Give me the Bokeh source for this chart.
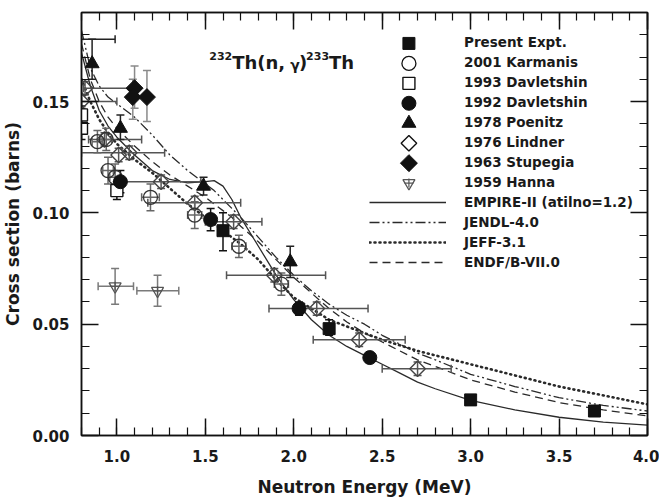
import numpy as np
from bokeh.plotting import figure
from bokeh.models import (LinearAxis, SingleIntervalTicker, PrintfTickFormatter, Range1d,
                          Legend, LegendItem, Label)
from bokeh.embed import file_html
from bokeh.resources import INLINE

# ---------------- data ----------------
present_x = [1.60, 2.20, 3.00, 3.70]
present_y = [0.092, 0.048, 0.016, 0.011]
present_ylo = [0.083, 0.045, 0.0145, 0.0098]
present_yhi = [0.100, 0.052, 0.0175, 0.0122]

karm_x = [0.89, 0.94, 0.95, 0.99, 1.19, 1.44, 1.69, 1.93]
karm_y = [0.132, 0.133, 0.119, 0.116, 0.107, 0.099, 0.085, 0.068]
karm_xlo = [0.86, 0.91, 0.92, 0.96, 1.14, 1.40, 1.65, 1.89]
karm_xhi = [0.92, 0.97, 0.98, 1.02, 1.24, 1.48, 1.73, 1.97]
karm_ylo = [0.127, 0.128, 0.113, 0.110, 0.101, 0.093, 0.080, 0.063]
karm_yhi = [0.137, 0.138, 0.125, 0.122, 0.113, 0.105, 0.090, 0.073]

dav93_x = [0.80, 0.80, 1.00]
dav93_y = [0.144, 0.138, 0.110]
dav93_ylo = [0.140, 0.133, 0.106]
dav93_yhi = [0.148, 0.142, 0.114]

dav92_x = [1.02, 1.53, 2.03, 2.43]
dav92_y = [0.114, 0.097, 0.057, 0.035]
dav92_ylo = [0.109, 0.092, 0.054, 0.033]
dav92_yhi = [0.119, 0.102, 0.060, 0.037]

poen_x = [0.86, 1.02, 1.49, 1.98]
poen_y = [0.167, 0.138, 0.112, 0.078]
poen_ylo = [0.160, 0.133, 0.108, 0.071]
poen_yhi = [0.178, 0.144, 0.116, 0.085]
poen_xlo = [0.80, 1.02, 1.49, 1.98]
poen_xhi = [0.99, 1.02, 1.49, 1.98]
poen_xbar_y = [0.178, 0.138, 0.112, 0.078]

lind_x = [0.80, 0.82, 0.93, 1.01, 1.07, 1.25, 1.44, 1.66, 1.89, 2.13, 2.37, 2.70]
lind_y = [0.150, 0.156, 0.133, 0.126, 0.127, 0.114, 0.1045, 0.096, 0.072, 0.057, 0.043, 0.030]
lind_xlo = [0.80, 0.81, 0.84, 1.01, 0.80, 1.00, 1.175, 1.50, 1.62, 1.86, 2.11, 2.50]
lind_xhi = [1.00, 1.08, 1.14, 1.01, 1.27, 1.475, 1.70, 1.82, 2.18, 2.42, 2.63, 2.89]
lind_ylo = [0.147, 0.153, 0.130, 0.123, 0.124, 0.111, 0.1015, 0.093, 0.069, 0.054, 0.040, 0.027]
lind_yhi = [0.153, 0.159, 0.136, 0.129, 0.130, 0.117, 0.1075, 0.099, 0.075, 0.060, 0.046, 0.033]

stup_x = [1.10, 1.09, 1.17]
stup_y = [0.156, 0.152, 0.152]
stup_ylo = [0.147, 0.142, 0.141]
stup_yhi = [0.166, 0.160, 0.164]

hanna_x = [0.99, 1.23]
hanna_y = [0.067, 0.065]
hanna_xlo = [0.894, 1.113]
hanna_xhi = [1.094, 1.350]
hanna_ylo = [0.059, 0.058]
hanna_yhi = [0.075, 0.072]

curve_x = [0.80, 0.85, 0.90, 0.95, 1.00, 1.10, 1.20, 1.30, 1.40, 1.50, 1.55, 1.60, 1.65,
           1.70, 1.80, 1.90, 2.00, 2.10, 2.20, 2.30, 2.40, 2.50, 2.60, 2.70, 2.80, 3.00,
           3.25, 3.50, 3.75, 4.00]
empire_y = [0.172, 0.157, 0.146, 0.139, 0.134, 0.126, 0.119, 0.115, 0.1135, 0.114, 0.1145,
            0.112, 0.106, 0.098, 0.085, 0.072, 0.061, 0.052, 0.045, 0.040, 0.036, 0.032,
            0.028, 0.024, 0.021, 0.0158, 0.0115, 0.0082, 0.006, 0.0047]
jendl_y = [0.182, 0.165, 0.157, 0.152, 0.149, 0.143, 0.135, 0.126, 0.119, 0.113, 0.110,
           0.106, 0.102, 0.098, 0.089, 0.080, 0.072, 0.065, 0.059, 0.054, 0.050, 0.045,
           0.041, 0.037, 0.034, 0.0275, 0.022, 0.017, 0.0135, 0.011]
jeff_y = [0.160, 0.150, 0.142, 0.136, 0.131, 0.124, 0.118, 0.111, 0.104, 0.098, 0.095,
          0.092, 0.089, 0.086, 0.079, 0.070, 0.062, 0.057, 0.052, 0.049, 0.046, 0.043,
          0.0405, 0.038, 0.036, 0.032, 0.027, 0.022, 0.018, 0.014]
endf_y = [0.176, 0.160, 0.150, 0.143, 0.138, 0.130, 0.123, 0.117, 0.112, 0.107, 0.104,
          0.101, 0.098, 0.094, 0.087, 0.079, 0.071, 0.064, 0.057, 0.051, 0.046, 0.042,
          0.038, 0.034, 0.031, 0.025, 0.0195, 0.0148, 0.0115, 0.0088]

legend_labels = ["Present Expt.", "2001 Karmanis", "1993 Davletshin", "1992 Davletshin",
                 "1978 Poenitz", "1976 Lindner", "1963 Stupegia", "1959 Hanna",
                 "EMPIRE-II (atilno=1.2)", "JENDL-4.0", "JEFF-3.1", "ENDF/B-VII.0"]

# ---------------- figure ----------------
X0, X1, Y0, Y1 = 0.8, 4.0, 0.0, 0.19
p = figure(width=659, height=499, output_backend="svg", toolbar_location=None,
           x_range=Range1d(X0, X1), y_range=Range1d(Y0, Y1),
           min_border_left=80, min_border_right=12, min_border_top=12, min_border_bottom=63)
p.background_fill_color = "white"
p.border_fill_color = "white"
p.xgrid.visible = False
p.ygrid.visible = False
p.outline_line_color = "#111"
p.outline_line_width = 1.5

FONT = "DejaVu Sans"
TXT = "#1a1a1a"


def px2x(px):
    return X0 + (px - 80) * (X1 - X0) / 567.0


def px2y(py):
    return Y0 + (436 - py) * (Y1 - Y0) / 424.0


def style_axis(ax, labels=True):
    ax.axis_line_color = "#111"
    ax.axis_line_width = 1.5
    ax.major_tick_line_color = "#111"
    ax.minor_tick_line_color = "#111"
    ax.major_tick_line_width = 1.5
    ax.minor_tick_line_width = 1.2
    ax.major_tick_in = 17
    ax.major_tick_out = 0
    ax.minor_tick_in = 8
    ax.minor_tick_out = 0
    ax.major_label_text_font = FONT
    ax.major_label_text_font_style = "bold"
    if labels:
        ax.major_label_text_font_size = "15px"
        ax.major_label_text_color = TXT
    else:
        ax.major_label_text_font_size = "1px"
        ax.major_label_text_color = None
        ax.major_label_standoff = 0


xb = p.xaxis[0]
yl = p.yaxis[0]
xt = LinearAxis()
yr = LinearAxis()
p.add_layout(xt, "above")
p.add_layout(yr, "right")
for ax in (xb, xt):
    ax.ticker = SingleIntervalTicker(interval=0.5, num_minor_ticks=5)
    ax.formatter = PrintfTickFormatter(format="%.1f")
for ax in (yl, yr):
    ax.ticker = SingleIntervalTicker(interval=0.05, num_minor_ticks=5)
    ax.formatter = PrintfTickFormatter(format="%.2f")
style_axis(xb)
style_axis(yl)
style_axis(xt, labels=False)
style_axis(yr, labels=False)
xb.major_label_standoff = 14
yl.major_label_standoff = 12
xb.axis_label = "Neutron Energy (MeV)"
yl.axis_label = "Cross section (barns)"
for ax in (xb, yl):
    ax.axis_label_text_font = FONT
    ax.axis_label_text_font_style = "bold"
    ax.axis_label_text_font_size = "17px"
    ax.axis_label_text_color = TXT
xb.axis_label_standoff = 12
yl.axis_label_standoff = 6

# ---------------- curves ----------------
LC = "#2a2a2a"
r_empire = p.line(curve_x, empire_y, line_color=LC, line_width=1.3)
r_jendl = p.line(curve_x, jendl_y, line_color=LC, line_width=1.3, line_dash="10 3 2 3 2 3")
r_jeff = p.line(curve_x, jeff_y, line_color=LC, line_width=2.6, line_dash="1 4", line_cap="round")
r_endf = p.line(curve_x, endf_y, line_color=LC, line_width=1.3, line_dash="8 5")


# ---------------- error bars ----------------
def errors(xs, ys, xlo=None, xhi=None, ylo=None, yhi=None, hy=None, color="#333"):
    hy = hy if hy is not None else ys
    if xlo is not None:
        hx0 = [a for a, b in zip(xlo, xhi) if b > a]
        hx1 = [b for a, b in zip(xlo, xhi) if b > a]
        hyy = [c for a, b, c in zip(xlo, xhi, hy) if b > a]
        p.segment(hx0, hyy, hx1, hyy, line_color=color, line_width=1.5)
        p.scatter(hx0 + hx1, hyy + hyy, marker="dash", angle=np.pi / 2, size=8,
                  line_color=color, line_width=1.5)
    if ylo is not None:
        p.segment(xs, ylo, xs, yhi, line_color=color, line_width=1.5)
        p.scatter(list(xs) + list(xs), list(ylo) + list(yhi), marker="dash", size=8,
                  line_color=color, line_width=1.5)


errors(lind_x, lind_y, lind_xlo, lind_xhi, lind_ylo, lind_yhi, color="#555")
errors(karm_x, karm_y, karm_xlo, karm_xhi, karm_ylo, karm_yhi, color="#666")
errors(present_x, present_y, ylo=present_ylo, yhi=present_yhi, color="#111")
errors(dav93_x, dav93_y, ylo=dav93_ylo, yhi=dav93_yhi, color="#111")
errors(dav92_x, dav92_y, ylo=dav92_ylo, yhi=dav92_yhi, color="#111")
errors(poen_x, poen_y, poen_xlo, poen_xhi, poen_ylo, poen_yhi, hy=poen_xbar_y, color="#222")
errors(stup_x, stup_y, ylo=stup_ylo, yhi=stup_yhi, color="#8a8a8a")
errors(hanna_x, hanna_y, hanna_xlo, hanna_xhi, hanna_ylo, hanna_yhi, color="#7a7a7a")

# ---------------- markers ----------------
MK = "#111"
styles = {
    "present": dict(marker="square", size=12, fill_color=MK, line_color=MK),
    "karm": dict(marker="circle", size=14, fill_color=None, line_color="#333", line_width=1.3),
    "dav93": dict(marker="square", size=12, fill_color="white", line_color=MK, line_width=1.4),
    "dav92": dict(marker="circle", size=14, fill_color=MK, line_color=MK),
    "poen": dict(marker="triangle", size=14, fill_color=MK, line_color=MK),
    "lind": dict(marker="square", angle=np.pi / 4, size=11, fill_color=None, line_color="#444",
                 line_width=1.4),
    "stup": dict(marker="square", angle=np.pi / 4, size=12, fill_color=MK, line_color=MK),
    "hanna": dict(marker="inverted_triangle", size=12, fill_color=None, line_color="#555",
                  line_width=1.3),
    "hanna2": dict(marker="cross", size=9, line_color="#555", line_width=1.2),
}
p.scatter(lind_x, lind_y, **styles["lind"])
p.scatter(karm_x, karm_y, **styles["karm"])
p.scatter(dav93_x, dav93_y, **styles["dav93"])
p.scatter(dav92_x, dav92_y, **styles["dav92"])
p.scatter(poen_x, poen_y, **styles["poen"])
p.scatter(stup_x, stup_y, **styles["stup"])
p.scatter(hanna_x, hanna_y, **styles["hanna"])
p.scatter(hanna_x, hanna_y, **styles["hanna2"])
p.scatter(present_x, present_y, **styles["present"])

# legend keys for the marker series, drawn at full size in the legend rows
# (Bokeh's legend would shrink markers to 40% of the 20 px row height)
LEG_SYM_PX = 408
LEG_ROW0_PX = 43
LEG_ROW_STEP = 20
key_order = ["present", "karm", "dav93", "dav92", "poen", "lind", "stup", "hanna", "hanna2"]
key_rows = [0, 1, 2, 3, 4, 5, 6, 7, 7]
for name, row in zip(key_order, key_rows):
    st = dict(styles[name])
    if name == "karm":
        st["line_color"] = MK
    if name == "lind":
        st["line_color"] = MK
    p.scatter([px2x(LEG_SYM_PX)], [px2y(LEG_ROW0_PX + LEG_ROW_STEP * row)], **st)

r_blank = p.scatter([], [], marker="square", size=1, fill_alpha=0, line_alpha=0)

# ---------------- legend ----------------
renderers = [[r_blank]] * 8 + [[r_empire], [r_jendl], [r_jeff], [r_endf]]
items = [LegendItem(label=lab, renderers=rs) for lab, rs in zip(legend_labels, renderers)]
legend = Legend(items=items, location=(288, 163), glyph_width=77, glyph_height=20,
                label_height=20, label_width=10, spacing=0, padding=0, margin=0,
                label_standoff=18, border_line_color=None, background_fill_alpha=0,
                label_text_font=FONT, label_text_font_style="bold",
                label_text_font_size="13.5px", label_text_color=TXT)
p.add_layout(legend)

# ---------------- title (reaction) ----------------
title_parts = [("232", 208, 56, "11px"), ("Th(n,", 231, 62, "18px"), ("\u03b3", 289, 65, "14px"),
               (")", 298, 62, "18px"), ("233", 305, 56, "11px"), ("Th", 328, 62, "18px")]
for txt, px, py, fs in title_parts:
    p.add_layout(Label(x=px2x(px), y=px2y(py), text=txt, text_font=FONT,
                       text_font_style="bold", text_font_size=fs, text_color=TXT,
                       text_baseline="alphabetic", text_align="left"))

open("out.html", "w").write(file_html(p, INLINE))
